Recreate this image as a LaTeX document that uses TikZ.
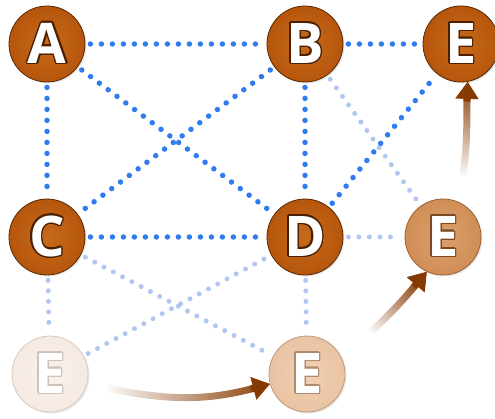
\documentclass[tikz,border=0pt]{standalone}
\usepackage{fontspec}
\setmainfont{Open Sans}
\usepackage[copies]{contour}
\usetikzlibrary{arrows.meta,backgrounds,fadings,shadows}
\contourlength{1.5pt}
\definecolor{dotblue}{HTML}{2F7BEF}
\definecolor{faintblue}{HTML}{B2C6F2}
\definecolor{arrbrown}{HTML}{863A02}
\definecolor{f1}{HTML}{B5560C}\definecolor{i1}{HTML}{C86A1C}\definecolor{b1}{HTML}{5A2800}\definecolor{o1}{HTML}{4A2000}
\definecolor{f2}{HTML}{D08E56}\definecolor{i2}{HTML}{DCA06C}\definecolor{b2}{HTML}{9A6034}\definecolor{o2}{HTML}{7A4A24}
\definecolor{f3}{HTML}{E9C3A3}\definecolor{i3}{HTML}{F0D0B4}\definecolor{b3}{HTML}{C29A7C}\definecolor{o3}{HTML}{B08A6C}
\definecolor{f4}{HTML}{F5EAE2}\definecolor{i4}{HTML}{F9F1EB}\definecolor{b4}{HTML}{D6CAC2}\definecolor{o4}{HTML}{CEC2BA}
\tikzfading[name=tailfade, left color=transparent!100, middle color=transparent!5, right color=transparent!0]
\tikzfading[name=tailfadeup, bottom color=transparent!100, middle color=transparent!5, top color=transparent!0]
\tikzset{
  ball/.style={circle, minimum size=76pt, inner sep=0pt, line width=0.8pt,
    shading=radial, text=white,
    font=\fontsize{56}{56}\selectfont\bfseries,
    drop shadow={opacity=0.18, shadow xshift=1.5pt, shadow yshift=-1.5pt}},
  lv1/.style={ball, inner color=i1, outer color=f1, draw=b1},
  lv2/.style={ball, inner color=i2, outer color=f2, draw=b2},
  lv3/.style={ball, inner color=i3, outer color=f3, draw=b3},
  lv4/.style={ball, inner color=i4, outer color=f4, draw=b4},
  bluedots/.style={draw=dotblue, line width=5.5pt, line cap=round, dash pattern=on 0pt off 11pt, shorten <=5pt, shorten >=5pt},
  faintdots/.style={draw=faintblue, line width=5pt, line cap=round, dash pattern=on 0pt off 10.5pt, shorten <=5pt, shorten >=5pt},
  arr/.style={draw=arrbrown, line width=7pt, -{Triangle[width=22pt,length=17pt]}}
}
\begin{document}
\begin{tikzpicture}[x=1pt,y=1pt]
\useasboundingbox (0,0) rectangle (495,418);
\node[lv1] (A)  at (47,374)  {\contour{o1}{A}};
\node[lv1] (B)  at (305,374) {\contour{o1}{B}};
\node[lv1] (Et) at (461,374) {\contour{o1}{E}};
\node[lv1] (C)  at (47,181)  {\contour{o1}{C}};
\node[lv1] (D)  at (305,181) {\contour{o1}{D}};
\node[lv2] (Er) at (443,181) {\contour{o2}{E}};
\node[lv4] (El) at (50,44)   {\contour{o4}{E}};
\node[lv3] (Eb) at (307,44)  {\contour{o3}{E}};
\coordinate (t1) at (107,30);
\coordinate (t2) at (362,78);
\coordinate (t3) at (463,243);
\coordinate (h1) at (251,29);
\coordinate (h2) at (414,131.3);
\coordinate (h3) at (466.9,316.6);
\begin{scope}[on background layer]
\draw[faintdots] (B) -- (Er);
\draw[faintdots] (D) -- (Er);
\draw[faintdots] (C) -- (Eb);
\draw[faintdots] (C) -- (El);
\draw[faintdots] (El) -- (D);
\draw[faintdots] (D) -- (Eb);
\draw[bluedots] (A) -- (B);
\draw[bluedots] (A) -- (C);
\draw[bluedots] (A) -- (D);
\draw[bluedots] (B) -- (C);
\draw[bluedots] (B) -- (D);
\draw[bluedots] (B) -- (Et);
\draw[bluedots] (C) -- (D);
\draw[bluedots] (D) -- (Et);
\end{scope}
\draw[arr, path fading=tailfade] (t1) to[out=-12,in=195] (Eb.195);
\draw[arr, path fading=tailfade, fading angle=45] (t2) to[out=42,in=230] (Er.245);
\draw[arr, path fading=tailfadeup] (t3) to[out=82,in=268] (Et.-80);
\draw[arr] (h1) -- (Eb.195);
\draw[arr] (h2) -- (Er.245);
\draw[arr] (h3) -- (Et.-80);
\end{tikzpicture}
\end{document}
